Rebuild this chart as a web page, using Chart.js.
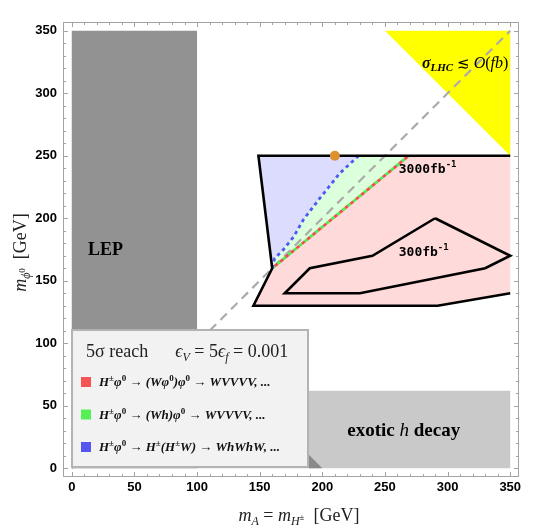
<!DOCTYPE html>
<html>
<head>
  <title>5 sigma reach</title>
  <script src="https://cdn.jsdelivr.net/npm/chart.js"></script>
  <style>
    body { margin: 0; background: #fff; }
    #wrap { width: 542px; height: 532px; }
  </style>
</head>
<body>
<div id="wrap"><canvas id="reach"></canvas></div>
<script>
// axis ticks
const xTicks = [0, 50, 100, 150, 200, 250, 300, 350];
const yTicks = [0, 50, 100, 150, 200, 250, 300, 350];

// regions, [mA, mphi] in GeV
const lep = [[0, 0], [100, 0], [100, 350], [0, 350], [0, 0]];
const exoticH = [[0, 0], [350, 0], [350, 62], [0, 62], [0, 0]];
const exoticCorner = [[189, 11], [200, 0], [189, 0], [189, 11]];
const lhcLimit = [[250, 350], [350, 350], [350, 250], [250, 350]];
const diagonal = [[0, 0], [350, 350]];

// 3000 fb^-1 reach
const reachOutline = [[350, 140], [292, 130], [145, 130], [160, 160], [149, 250], [350, 250]];
const blueCurve = [[160, 160], [162, 168], [169, 175], [177, 185], [185, 199], [198, 216], [214, 236], [229, 250]];
const redGreenLine = [[160, 160], [269, 250]];
// 300 fb^-1 reach
const reach300 = [[290, 200], [350, 170], [330, 160], [230, 140], [170, 140], [190, 160], [240, 170], [290, 200]];
const benchmark = [[210, 250]];

const legendLabels = [
  'H^{±}φ^{0} → (Wφ^{0})φ^{0} → WVVVV, ...',
  'H^{±}φ^{0} → (Wh)φ^{0} → WVVVV, ...',
  'H^{±}φ^{0} → H^{±}(H^{±}W) → WhWhW, ...'
];
const legendColors = ['#f55454', '#55f055', '#5555f0'];

const pts = a => a.map(([x, y]) => ({ x, y }));

const blueRegion = [[149, 250], ...blueCurve.slice().reverse(), [149, 250]];
const greenRegion = [...blueCurve, [269, 250], [160, 160]];
const pinkRegion = [[160, 160], [269, 250], [350, 250], [350, 140], [292, 130], [145, 130], [160, 160]];

function area(data, color) {
  return { data: pts(data), backgroundColor: color, borderWidth: 0, fill: 'shape', showLine: true, pointRadius: 0 };
}
function line(data, color, width, dash, offset) {
  return { data: pts(data), borderColor: color, borderWidth: width, borderDash: dash || [], borderDashOffset: offset || 0,
           fill: false, showLine: true, pointRadius: 0, borderCapStyle: 'butt', borderJoinStyle: 'miter' };
}

// bottom to top
const datasets = [
  area(lep, '#929292'),
  area(exoticH, '#c9c9c9'),
  area(exoticCorner, '#8a8a8a'),
  area(lhcLimit, '#ffff00'),
  area(pinkRegion, '#ffdada'),
  area(blueRegion, '#dcdcff'),
  area(greenRegion, '#dcffdc'),
  line(diagonal, '#ababab', 2.2, [9, 6]),
  line(redGreenLine, '#4cf04c', 2.8, [3.5, 3.5], 0),
  line(redGreenLine, '#f04c4c', 2.8, [3.5, 3.5], 3.5),
  line(blueCurve, '#4a5af5', 2.8, [3.5, 3.5]),
  line(reachOutline, '#000', 2.6),
  line(reach300, '#000', 2.6),
  { data: pts(benchmark), showLine: false, pointRadius: 5, pointBackgroundColor: '#dc9030', pointBorderWidth: 0 }
];
datasets.forEach((d, i) => { d.order = datasets.length - i; });

const SERIF = '"Liberation Serif", serif';

function parseMath(str, base, small, dySup, dySub) {
  const runs = [];
  str.split(/(\^\{[^}]*\}|_\{[^}]*\})/).forEach(p => {
    if (!p) return;
    if (p.startsWith('^{')) runs.push({ t: p.slice(2, -1), f: small, dy: dySup });
    else if (p.startsWith('_{')) runs.push({ t: p.slice(2, -1), f: small, dy: dySub });
    else runs.push({ t: p, f: base, dy: 0 });
  });
  return runs;
}
function runsWidth(ctx, runs) {
  let w = 0;
  runs.forEach(r => { ctx.font = r.f; w += ctx.measureText(r.t).width; });
  return w;
}
function drawRuns(ctx, runs, x, y, align) {
  const w = runsWidth(ctx, runs);
  let cx = align === 'center' ? x - w / 2 : align === 'right' ? x - w : x;
  ctx.textAlign = 'left';
  ctx.textBaseline = 'alphabetic';
  runs.forEach(r => {
    ctx.font = r.f;
    ctx.fillText(r.t, cx, y + (r.dy || 0));
    cx += ctx.measureText(r.t).width;
  });
}

const overlay = {
  id: 'overlay',
  afterDatasetsDraw(chart) {
    const ctx = chart.ctx, xs = chart.scales.x, ys = chart.scales.y, ca = chart.chartArea;
    const X = v => xs.getPixelForValue(v), Y = v => ys.getPixelForValue(v);
    ctx.save();
    ctx.fillStyle = '#000';

    drawRuns(ctx, [{ t: 'LEP', f: 'bold 18px ' + SERIF }], X(27), Y(171), 'center');
    drawRuns(ctx, [
      { t: 'exotic ', f: 'bold 19px ' + SERIF },
      { t: 'h', f: 'italic 19px ' + SERIF },
      { t: ' decay', f: 'bold 19px ' + SERIF }
    ], X(265), Y(26), 'center');
    drawRuns(ctx, [
      { t: 'σ', f: 'italic bold 16px ' + SERIF },
      { t: 'LHC', f: 'italic bold 11px ' + SERIF, dy: 3 },
      { t: ' ≲ ', f: '15px ' + SERIF },
      { t: 'O', f: 'italic 16px ' + SERIF },
      { t: '(', f: '16px ' + SERIF },
      { t: 'fb', f: 'italic 16px ' + SERIF },
      { t: ')', f: '16px ' + SERIF }
    ], X(348.5), Y(320), 'right');
    const mono = '"DejaVu Sans Mono", monospace';
    drawRuns(ctx, [{ t: '3000fb', f: 'bold 13px ' + mono }, { t: '-1', f: 'bold 9px ' + mono, dy: -6 }], X(261), Y(236), 'left');
    drawRuns(ctx, [{ t: '300fb', f: 'bold 13px ' + mono }, { t: '-1', f: 'bold 9px ' + mono, dy: -6 }], X(261), Y(170), 'left');

    // legend box
    const lx = ca.left + 9, ly = ca.top + 308, lw = 236, lh = 137;
    ctx.fillStyle = '#f2f2f2';
    ctx.fillRect(lx, ly, lw, lh);
    ctx.strokeStyle = '#b3b3b3';
    ctx.lineWidth = 2;
    ctx.strokeRect(lx, ly, lw, lh);
    ctx.fillStyle = '#222';
    drawRuns(ctx, [
      { t: '5σ reach      ', f: '18px ' + SERIF },
      { t: 'ϵ', f: 'italic 18px ' + SERIF },
      { t: 'V', f: 'italic 12px ' + SERIF, dy: 4 },
      { t: ' = 5', f: '18px ' + SERIF },
      { t: 'ϵ', f: 'italic 18px ' + SERIF },
      { t: 'f', f: 'italic 12px ' + SERIF, dy: 4 },
      { t: ' = 0.001', f: '18px ' + SERIF }
    ], lx + 14, ly + 27, 'left');
    legendLabels.forEach((txt, i) => {
      const cy = ly + 52 + i * 32.5;
      ctx.fillStyle = legendColors[i];
      ctx.fillRect(lx + 9, cy - 5, 10, 10);
      ctx.fillStyle = '#111';
      drawRuns(ctx, parseMath(txt, 'italic bold 13px ' + SERIF, 'bold 9px ' + SERIF, -5, 3), lx + 27, cy + 4, 'left');
    });

    // frame with inward ticks
    ctx.strokeStyle = '#a3a3a3';
    ctx.lineWidth = 1;
    ctx.strokeRect(ca.left + 0.5, ca.top + 0.5, ca.right - ca.left - 1, ca.bottom - ca.top - 1);
    ctx.beginPath();
    for (let v = 0; v <= 350; v += 10) {
      const len = v % 50 === 0 ? 5 : 3;
      const px = Math.round(X(v)) + 0.5, py = Math.round(Y(v)) + 0.5;
      ctx.moveTo(px, ca.bottom); ctx.lineTo(px, ca.bottom - len);
      ctx.moveTo(px, ca.top); ctx.lineTo(px, ca.top + len);
      ctx.moveTo(ca.left, py); ctx.lineTo(ca.left + len, py);
      ctx.moveTo(ca.right, py); ctx.lineTo(ca.right - len, py);
    }
    ctx.stroke();
    ctx.restore();
  },
  afterDraw(chart) {
    const ctx = chart.ctx, ca = chart.chartArea;
    ctx.save();
    ctx.fillStyle = '#222';
    drawRuns(ctx, [
      { t: 'm', f: 'italic 18px ' + SERIF },
      { t: 'A', f: 'italic 12px ' + SERIF, dy: 4 },
      { t: ' = ', f: '18px ' + SERIF },
      { t: 'm', f: 'italic 18px ' + SERIF },
      { t: 'H', f: 'italic 12px ' + SERIF, dy: 4 },
      { t: '±', f: '9px ' + SERIF, dy: -1 },
      { t: '  [GeV]', f: '18px ' + SERIF }
    ], (ca.left + ca.right) / 2 + 8, 521, 'center');
    ctx.translate(26, (ca.top + ca.bottom) / 2 + 3);
    ctx.rotate(-Math.PI / 2);
    drawRuns(ctx, [
      { t: 'm', f: 'italic 18px ' + SERIF },
      { t: 'ϕ', f: 'italic 12px ' + SERIF, dy: 4 },
      { t: '0', f: '9px ' + SERIF, dy: -1 },
      { t: '  [GeV]', f: '18px ' + SERIF }
    ], 0, 0, 'center');
    ctx.restore();
  }
};

const tickFont = { family: '"Liberation Sans", Arial, sans-serif', size: 13, weight: 'bold' };

new Chart(document.getElementById('reach'), {
  type: 'scatter',
  data: { datasets },
  options: {
    responsive: true,
    maintainAspectRatio: false,
    animation: false,
    events: [],
    layout: { padding: { left: 0, top: 22, right: 23, bottom: 0 } },
    plugins: { legend: { display: false }, tooltip: { enabled: false } },
    scales: {
      x: {
        type: 'linear', min: -7, max: 357,
        afterBuildTicks: s => { s.ticks = xTicks.map(v => ({ value: v })); },
        afterFit: s => { s.height = 55; },
        ticks: { font: tickFont, color: '#000', padding: 3, maxRotation: 0, autoSkip: false },
        grid: { display: false, drawTicks: false },
        border: { display: false }
      },
      y: {
        type: 'linear', min: -7, max: 357,
        afterBuildTicks: s => { s.ticks = yTicks.map(v => ({ value: v })); },
        afterFit: s => { s.width = 63; },
        ticks: { font: tickFont, color: '#000', padding: 6, autoSkip: false },
        grid: { display: false, drawTicks: false },
        border: { display: false }
      }
    }
  },
  plugins: [overlay]
});
</script>
</body>
</html>
